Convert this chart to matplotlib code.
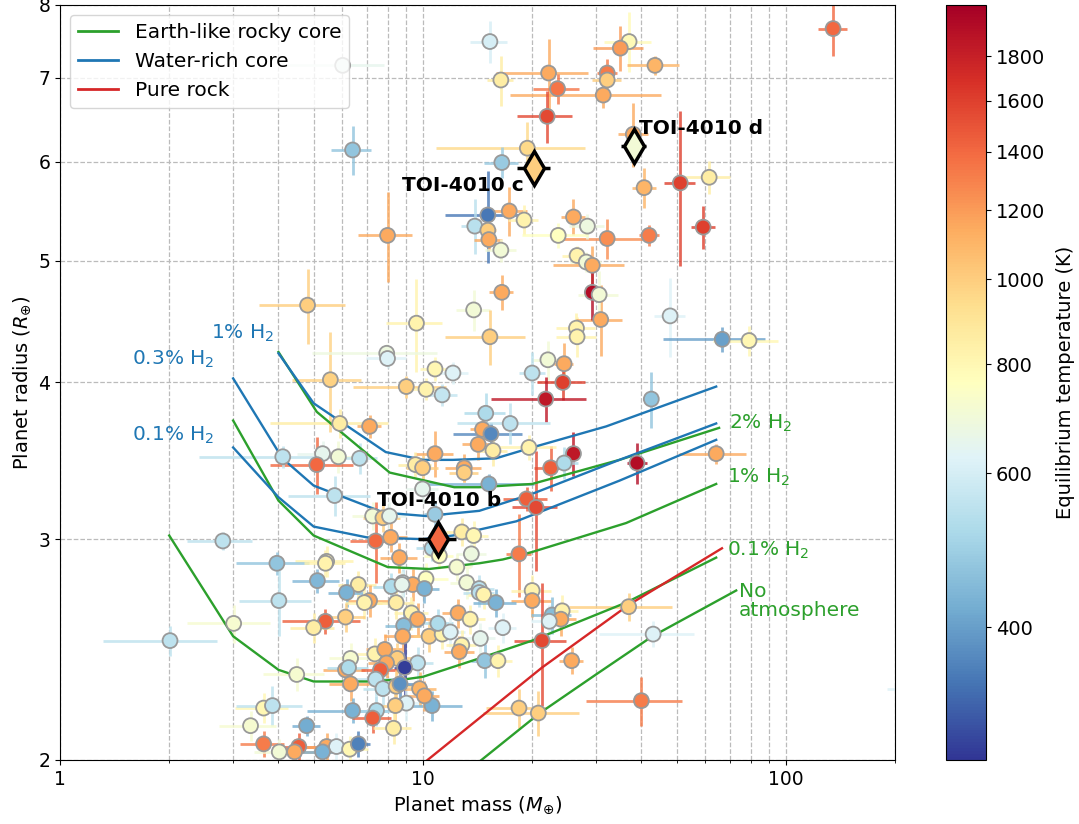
import numpy as np
import matplotlib
matplotlib.use("Agg")
import matplotlib.pyplot as plt
from matplotlib.colors import LogNorm
from matplotlib.ticker import NullFormatter, NullLocator
from matplotlib.lines import Line2D

plt.rcParams["font.family"] = "DejaVu Sans"

# ---- known planets: mass, radius, mass err, radius err, Teq ----
pl_mass = [135, 15.3, 37.0, 35.0, 43.6, 16.4, 22.2, 32.2, 32.2, 23.5, 31.4, 22.0, 19.4, 16.5, 38.0,
           40.7, 51.2, 61.5, 59.2, 42.0, 32.2, 15.1, 17.3, 19.0, 13.9, 15.1, 15.2, 16.4, 26.0, 28.4,
           23.6, 26.6, 28.2, 29.3, 6.40, 6.01, 7.99, 4.81, 9.60, 13.8, 16.5, 15.3, 22.1, 24.5, 20.0,
           26.5, 26.6, 30.9, 29.3, 30.6, 48.0, 66.8, 79.2, 24.3, 21.8, 42.6, 26.0, 22.5, 24.5, 38.9,
           64.3, 19.6, 14.9, 14.6, 15.4, 14.2, 15.6, 17.4, 10.8, 13.0, 13.0, 15.2, 9.98, 19.3, 20.5,
           18.4, 10.8, 12.8, 13.8, 13.6, 12.4, 10.2, 13.2, 14.3, 10.6, 11.1, 20.0, 20.0, 5.90, 7.13,
           5.29, 5.85, 6.69, 5.10, 9.54, 9.98, 5.71, 7.27, 7.76, 8.09, 7.41, 8.15, 8.62, 5.43, 5.12,
           6.64, 8.80, 9.37, 8.19, 6.16, 7.13, 6.90, 8.44, 9.30, 9.67, 5.39, 5.00, 6.12, 8.85, 8.80,
           6.32, 7.37, 7.85, 8.50, 7.94, 6.12, 6.24, 9.67, 8.91, 7.64, 7.41, 7.76, 6.32, 8.44, 8.65,
           4.49, 9.0, 8.4, 9.79, 6.40, 7.45, 7.27, 4.78, 8.3, 4.55, 4.43, 5.43, 5.78, 5.29, 6.28,
           6.64, 2.81, 3.96, 4.01, 5.39, 3.01, 2.01, 3.64, 3.85, 3.35, 3.64, 4.02, 10.6, 10.1, 10.1,
           8.76, 10.4, 11.3, 11.0, 11.9, 12.5, 13.5, 12.8, 12.6, 14.4, 14.3, 14.7, 15.9, 16.6, 14.8,
           16.1, 22.7, 24.2, 24.0, 22.3, 21.3, 25.7, 18.4, 20.8, 36.9, 43.1, 40.0, 260, 5.56, 7.95,
           7.99, 10.8, 12.1, 9.0, 10.2, 11.3, 4.11]
pl_radius = [7.66, 7.48, 7.48, 7.39, 7.16, 6.97, 7.06, 7.06, 6.97, 6.86, 6.78, 6.52, 6.15, 5.99, 6.31,
             5.72, 5.77, 5.83, 5.32, 5.24, 5.21, 5.44, 5.48, 5.39, 5.33, 5.29, 5.20, 5.10, 5.42, 5.33,
             5.24, 5.05, 4.99, 4.96, 6.13, 7.16, 5.24, 4.61, 4.46, 4.57, 4.72, 4.35, 4.17, 4.14, 4.07,
             4.42, 4.35, 4.49, 4.72, 4.70, 4.52, 4.33, 4.32, 4.00, 3.88, 3.88, 3.51, 3.42, 3.45, 3.45,
             3.51, 3.55, 3.78, 3.67, 3.64, 3.57, 3.53, 3.71, 3.51, 3.42, 3.39, 3.32, 3.29, 3.23, 3.18,
             2.92, 3.14, 3.04, 3.02, 2.92, 2.85, 2.79, 2.77, 2.74, 2.95, 2.91, 2.73, 2.68, 3.71, 3.69,
             3.51, 3.49, 3.48, 3.44, 3.44, 3.42, 3.25, 3.13, 3.12, 3.13, 2.99, 3.01, 2.90, 2.88, 2.78,
             2.76, 2.77, 2.76, 2.75, 2.72, 2.68, 2.67, 2.67, 2.62, 2.59, 2.58, 2.55, 2.60, 2.56, 2.51,
             2.41, 2.43, 2.45, 2.41, 2.39, 2.36, 2.37, 2.39, 2.37, 2.36, 2.32, 2.28, 2.30, 2.29, 2.30,
             2.34, 2.22, 2.21, 2.28, 2.19, 2.19, 2.16, 2.13, 2.12, 2.05, 2.03, 2.05, 2.05, 2.03, 2.04,
             2.06, 2.99, 2.87, 2.68, 2.87, 2.57, 2.49, 2.20, 2.21, 2.13, 2.06, 2.03, 2.21, 2.25, 2.74,
             2.76, 2.51, 2.52, 2.57, 2.53, 2.62, 2.59, 2.47, 2.44, 2.50, 2.72, 2.71, 2.67, 2.55, 2.40,
             2.40, 2.61, 2.63, 2.59, 2.58, 2.49, 2.40, 2.20, 2.18, 2.65, 2.52, 2.23, 2.28, 4.02, 4.22,
             4.18, 4.10, 4.07, 3.97, 3.95, 3.91, 3.49]
pl_mass_err = [12, 1.8, 5.4, 5.5, 7.2, 1.35, 6.3, 2.0, 3.0, 3.4, 14, 3.8, 8.5, 1.8, 3.6,
               3.1, 4.9, 8.6, 4.5, 2.7, 8.8, 3.6, 2.1, 1.8, 1.15, 0.8, 1.35, 1.6, 2.0, 3.1,
               4.9, 2.5, 2.7, 6.5, 0.81, 1.8, 1.37, 1.28, 1.7, 1.5, 1.25, 3.8, 2.1, 1.5, 1.65,
               3.3, 3.3, 4.5, 1.0, 3.9, 4.6, 21, 16, 3.7, 6.4, 1.5, 0.8, 2.3, 2.3, 2.5,
               13.5, 3.7, 1.9, 1.1, 3.3, 1.35, 1.5, 5.0, 1.3, 1.5, 1.2, 5.0, 1.0, 2.7, 2.9,
               1.5, 0.7, 1.2, 1.3, 1.3, 1.2, 1.5, 1.3, 1.4, 1.0, 1.0, 2.5, 2.5, 2.1, 0.55,
               0.8, 0.7, 0.8, 1.3, 1.0, 1.0, 1.45, 0.9, 0.9, 0.9, 1.1, 0.9, 1.0, 1.0, 0.75,
               0.8, 1.0, 1.0, 0.9, 0.7, 0.9, 0.8, 1.0, 1.0, 1.0, 1.3, 0.7, 0.8, 1.0, 1.0,
               0.8, 0.8, 0.9, 0.9, 0.9, 0.8, 0.8, 1.0, 0.6, 0.9, 0.9, 0.9, 0.8, 1.0, 1.0,
               0.86, 1.0, 1.0, 1.1, 1.6, 0.9, 0.9, 0.42, 1.0, 0.6, 0.6, 0.7, 0.7, 0.7, 0.8,
               0.5, 0.57, 0.9, 0.9, 0.7, 0.77, 0.7, 0.6, 0.8, 0.6, 0.5, 0.6, 2.2, 1.0, 1.0,
               1.0, 1.0, 1.1, 1.1, 1.2, 1.2, 1.3, 1.2, 1.2, 1.4, 1.4, 1.4, 2.2, 1.5, 1.2,
               1.5, 2.9, 2.5, 2.5, 2.5, 3.5, 2.0, 3.5, 6.2, 11.7, 12.6, 11.9, 70, 1.2, 3.0,
               1.0, 1.0, 1.2, 2.6, 1.2, 1.1, 1.7]
pl_radius_err = [0.38, 0.29, 0.41, 0.31, 0.13, 0.32, 0.45, 0.19, 0.13, 0.19, 0.16, 0.31, 0.30, 0.17, 0.37,
                 0.21, 0.82, 0.18, 0.21, 0.10, 0.19, 0.46, 0.25, 0.15, 0.27, 0.08, 0.10, 0.11, 0.18, 0.12,
                 0.12, 0.09, 0.09, 0.18, 0.28, 0.10, 0.43, 0.32, 0.38, 0.17, 0.15, 0.22, 0.15, 0.16, 0.16,
                 0.12, 0.16, 0.29, 0.23, 0.21, 0.33, 0.10, 0.12, 0.125, 0.16, 0.20, 0.14, 0.14, 0.10, 0.13,
                 0.065, 0.08, 0.14, 0.10, 0.07, 0.10, 0.10, 0.14, 0.15, 0.09, 0.06, 0.06, 0.08, 0.07, 0.35,
                 0.22, 0.07, 0.08, 0.08, 0.07, 0.07, 0.08, 0.08, 0.07, 0.07, 0.07, 0.08, 0.08, 0.10, 0.08,
                 0.08, 0.10, 0.10, 0.18, 0.08, 0.08, 0.12, 0.08, 0.08, 0.08, 0.22, 0.08, 0.08, 0.08, 0.06,
                 0.07, 0.07, 0.08, 0.07, 0.07, 0.08, 0.08, 0.08, 0.08, 0.08, 0.06, 0.07, 0.07, 0.08, 0.07,
                 0.07, 0.07, 0.07, 0.07, 0.07, 0.07, 0.07, 0.07, 0.17, 0.07, 0.07, 0.07, 0.07, 0.07, 0.07,
                 0.07, 0.07, 0.07, 0.07, 0.05, 0.06, 0.06, 0.04, 0.06, 0.05, 0.05, 0.05, 0.05, 0.05, 0.05,
                 0.05, 0.05, 0.06, 0.17, 0.07, 0.09, 0.07, 0.06, 0.08, 0.06, 0.05, 0.05, 0.06, 0.06, 0.07,
                 0.07, 0.07, 0.07, 0.07, 0.07, 0.07, 0.07, 0.07, 0.07, 0.07, 0.07, 0.07, 0.07, 0.07, 0.075,
                 0.07, 0.09, 0.08, 0.08, 0.08, 0.28, 0.06, 0.08, 0.09, 0.07, 0.06, 0.10, 0.05, 0.37, 0.07,
                 0.07, 0.09, 0.08, 0.08, 0.08, 0.08, 0.07]
pl_teq = [1400, 600, 790, 1200, 1100, 850, 1150, 1320, 1000, 1350, 1150, 1550, 950, 480, 1150,
          1100, 1600, 850, 1600, 1320, 1250, 350, 1150, 820, 540, 1000, 1150, 700, 1150, 680,
          760, 820, 700, 1150, 470, 650, 1150, 1000, 820, 700, 1150, 1000, 700, 1150, 550,
          820, 820, 1150, 1950, 700, 620, 400, 800, 1600, 1850, 470, 1850, 1450, 520, 1950,
          1150, 820, 520, 1150, 370, 1150, 850, 550, 1150, 1150, 1000, 430, 650, 1450, 1550,
          1320, 480, 850, 800, 680, 720, 760, 700, 540, 520, 760, 820, 1150, 850, 1150,
          650, 700, 550, 1400, 850, 1000, 550, 700, 1000, 650, 1400, 1150, 1150, 820, 440,
          850, 550, 1150, 520, 430, 1150, 820, 850, 820, 1150, 1450, 850, 1000, 450, 1150,
          720, 820, 1150, 1000, 1150, 1150, 520, 550, 290, 1450, 550, 550, 1150, 1000, 380,
          720, 620, 1000, 1100, 430, 520, 1450, 420, 850, 1450, 1150, 1150, 620, 430, 800,
          360, 550, 470, 550, 820, 720, 550, 800, 550, 720, 1320, 700, 430, 1150, 430,
          650, 1000, 820, 520, 620, 1150, 820, 820, 1150, 650, 540, 820, 430, 620, 470,
          820, 450, 820, 1150, 620, 1550, 1150, 1000, 1000, 1000, 620, 1320, 620, 980, 680,
          620, 800, 620, 1000, 820, 560, 550]

# ---- TOI-4010 system ----
toi_names = ["TOI-4010 b", "TOI-4010 c", "TOI-4010 d"]
toi_mass = [11.0, 20.3, 38.2]
toi_radius = [3.0, 5.93, 6.18]
toi_mass_err = [1.3, 2.1, 3.0]
toi_radius_err = [0.08, 0.13, 0.14]
toi_teq = [1400, 1000, 700]

# ---- composition models ----
earth_noatm_m = [10, 14.5, 21, 30, 42.9, 73]
earth_noatm_r = [1.84, 2.0, 2.18, 2.34, 2.51, 2.73]
earth_01_m = [2, 3, 4, 5, 7, 9, 10, 14.3, 20, 36.3, 64.3]
earth_01_r = [3.02, 2.51, 2.36, 2.31, 2.31, 2.32, 2.33, 2.41, 2.49, 2.67, 2.90]
earth_1_m = [3, 4, 5, 8, 10.4, 14.3, 16.6, 20, 36.3, 64.3]
earth_1_r = [3.73, 3.22, 3.02, 2.85, 2.84, 2.87, 2.89, 2.93, 3.09, 3.32]
earth_2_m = [4, 5.1, 8.1, 12.2, 14.3, 20, 34.8, 65.5]
earth_2_r = [4.23, 3.79, 3.39, 3.30, 3.30, 3.32, 3.47, 3.68]
water_01_m = [3, 4, 5, 7, 10, 12.1, 18.1, 34.8, 64.3]
water_01_r = [3.55, 3.24, 3.07, 3.01, 3.0, 3.02, 3.10, 3.34, 3.60]
water_03_m = [3, 4.1, 5, 7.8, 10.2, 14.3, 20, 34.8, 64.3]
water_03_r = [4.03, 3.48, 3.31, 3.15, 3.13, 3.16, 3.26, 3.47, 3.71]
water_1_m = [4, 5, 7.9, 10, 12.1, 15.9, 20, 32, 64.3]
water_1_r = [4.22, 3.85, 3.52, 3.47, 3.47, 3.48, 3.55, 3.69, 3.97]
rock_m = [8, 10.3, 21.3, 37, 66.7]
rock_r = [1.88, 2.0, 2.37, 2.66, 2.95]

green, blue, red = "#2ca02c", "#1f77b4", "#d62728"

fig = plt.figure(figsize=(10.79, 8.24), dpi=100)
ax = fig.add_axes([0.0556, 0.0777, 0.7739, 0.9163])
cax = fig.add_axes([0.8767, 0.0777, 0.0371, 0.9163])

cmap = plt.get_cmap("RdYlBu_r")
norm = LogNorm(vmin=282, vmax=2060)

# error bars of the known planets
for m, r, dm, dr, t in zip(pl_mass, pl_radius, pl_mass_err, pl_radius_err, pl_teq):
    ax.errorbar(m, r, xerr=dm, yerr=dr, fmt="none", ecolor=cmap(norm(t)),
                elinewidth=2, alpha=0.8, zorder=2)

# model curves
for mm, rr in [(earth_noatm_m, earth_noatm_r), (earth_01_m, earth_01_r),
               (earth_1_m, earth_1_r), (earth_2_m, earth_2_r)]:
    ax.plot(mm, rr, color=green, lw=1.7, zorder=2.5)
for mm, rr in [(water_01_m, water_01_r), (water_03_m, water_03_r), (water_1_m, water_1_r)]:
    ax.plot(mm, rr, color=blue, lw=1.7, zorder=2.5)
ax.plot(rock_m, rock_r, color=red, lw=1.7, zorder=2.5)

sc = ax.scatter(pl_mass, pl_radius, c=pl_teq, cmap=cmap, norm=norm, s=115,
                edgecolors="#999999", linewidths=1.3, zorder=3)

# TOI-4010 planets
ax.errorbar(toi_mass, toi_radius, xerr=toi_mass_err, yerr=toi_radius_err, fmt="none",
            ecolor="k", elinewidth=2.5, zorder=4)
for m, r, t in zip(toi_mass, toi_radius, toi_teq):
    ax.plot(m, r, marker="d", ms=17, mfc=cmap(norm(t)), mec="k", mew=2.5, zorder=5)

fs = 14.5
ax.text(11.1, 3.22, "TOI-4010 b", fontsize=fs, fontweight="bold", ha="center", va="center", zorder=6)
ax.text(19.0, 5.74, "TOI-4010 c", fontsize=fs, fontweight="bold", ha="right", va="center", zorder=6)
ax.text(39.4, 6.38, "TOI-4010 d", fontsize=fs, fontweight="bold", ha="left", va="center", zorder=6)

# curve labels
ax.text(3.90, 4.38, "1% H$_2$", color=blue, fontsize=fs, ha="right", va="center")
ax.text(2.67, 4.17, "0.3% H$_2$", color=blue, fontsize=fs, ha="right", va="center")
ax.text(2.67, 3.63, "0.1% H$_2$", color=blue, fontsize=fs, ha="right", va="center")
ax.text(69.8, 3.71, "2% H$_2$", color=green, fontsize=fs, ha="left", va="center")
ax.text(68.8, 3.36, "1% H$_2$", color=green, fontsize=fs, ha="left", va="center")
ax.text(68.8, 2.94, "0.1% H$_2$", color=green, fontsize=fs, ha="left", va="center")
ax.text(74.3, 2.68, "No\natmosphere", color=green, fontsize=fs, ha="left", va="center",
        linespacing=1.0)

ax.set_xscale("log")
ax.set_yscale("log")
ax.set_xlim(1, 200)
ax.set_ylim(2, 8)
ax.set_xticks([1, 10, 100])
ax.set_xticklabels(["1", "10", "100"])
ax.xaxis.set_minor_formatter(NullFormatter())
ax.set_yticks([2, 3, 4, 5, 6, 7, 8])
ax.set_yticklabels(["2", "3", "4", "5", "6", "7", "8"])
ax.yaxis.set_minor_locator(NullLocator())
ax.tick_params(labelsize=13.5)
ax.grid(which="both", axis="x", linestyle="--", color="#bbbbbb", lw=0.9)
ax.grid(which="major", axis="y", linestyle="--", color="#bbbbbb", lw=0.9)
ax.set_axisbelow(True)
ax.set_xlabel(r"Planet mass ($M_{\oplus}$)", fontsize=14)
ax.set_ylabel(r"Planet radius ($R_{\oplus}$)", fontsize=14)

handles = [Line2D([], [], color=green, lw=2), Line2D([], [], color=blue, lw=2),
           Line2D([], [], color=red, lw=2)]
ax.legend(handles, ["Earth-like rocky core", "Water-rich core", "Pure rock"],
          loc="upper left", fontsize=14.5)

cb = fig.colorbar(sc, cax=cax)
cb.set_ticks([400, 600, 800, 1000, 1200, 1400, 1600, 1800])
cb.set_ticklabels(["400", "600", "800", "1000", "1200", "1400", "1600", "1800"])
cb.ax.yaxis.set_minor_locator(NullLocator())
cb.ax.tick_params(labelsize=14)
cb.set_label("Equilibrium temperature (K)", fontsize=14, labelpad=8)

fig.savefig("out.png", dpi=100)
